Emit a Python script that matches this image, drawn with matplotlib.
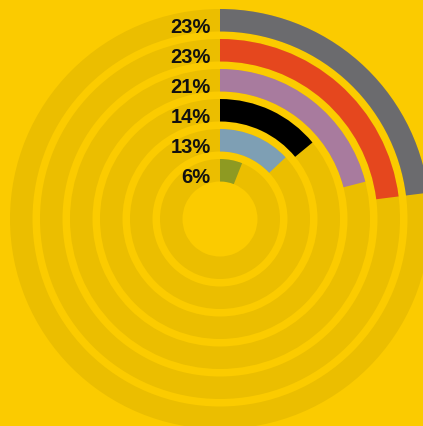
import matplotlib.pyplot as plt
import numpy as np

# values from inner ring to outer ring
values = [6, 13, 14, 21, 23, 23]
labels = ["6%", "13%", "14%", "21%", "23%", "23%"]
colors = ["#8E9A22", "#7E9FB4", "#000000", "#A87B9E", "#E5471E", "#6B6B6E"]

bg = "#FBCB00"
track = "#EBBE00"

fig = plt.figure(figsize=(4.23, 4.27), dpi=100)
fig.patch.set_facecolor(bg)

# polar axes, centre of rings at about (220, 220) px from top left
R = 220
ax = fig.add_axes([0, (207 - R) / 427, 2 * R / 423, 2 * R / 427], projection="polar")
ax.set_facecolor(bg)
ax.set_theta_zero_location("N")
ax.set_theta_direction(-1)
ax.set_ylim(0, R)
ax.set_axis_off()

inner = 37.5
pitch = 30
width = 22.5

for i, (v, lab, c) in enumerate(zip(values, labels, colors)):
    b = inner + i * pitch
    # full background track
    ax.bar(np.pi, width, width=2 * np.pi, bottom=b, color=track, align="center", linewidth=0)
    # value bar, clockwise from 12 o'clock
    ax.bar(0, width, width=v / 100 * 2 * np.pi, bottom=b, color=c, align="edge", linewidth=0)
    ax.annotate(lab, xy=(0, b + width / 2), xytext=(-6.7, -4.6), textcoords="offset points",
                ha="right", va="center", fontsize=14.5, fontweight="bold", color="#111111",
                family=["Liberation Sans Narrow", "Liberation Sans", "DejaVu Sans"])

fig.savefig("out.png", dpi=100, facecolor=bg)
